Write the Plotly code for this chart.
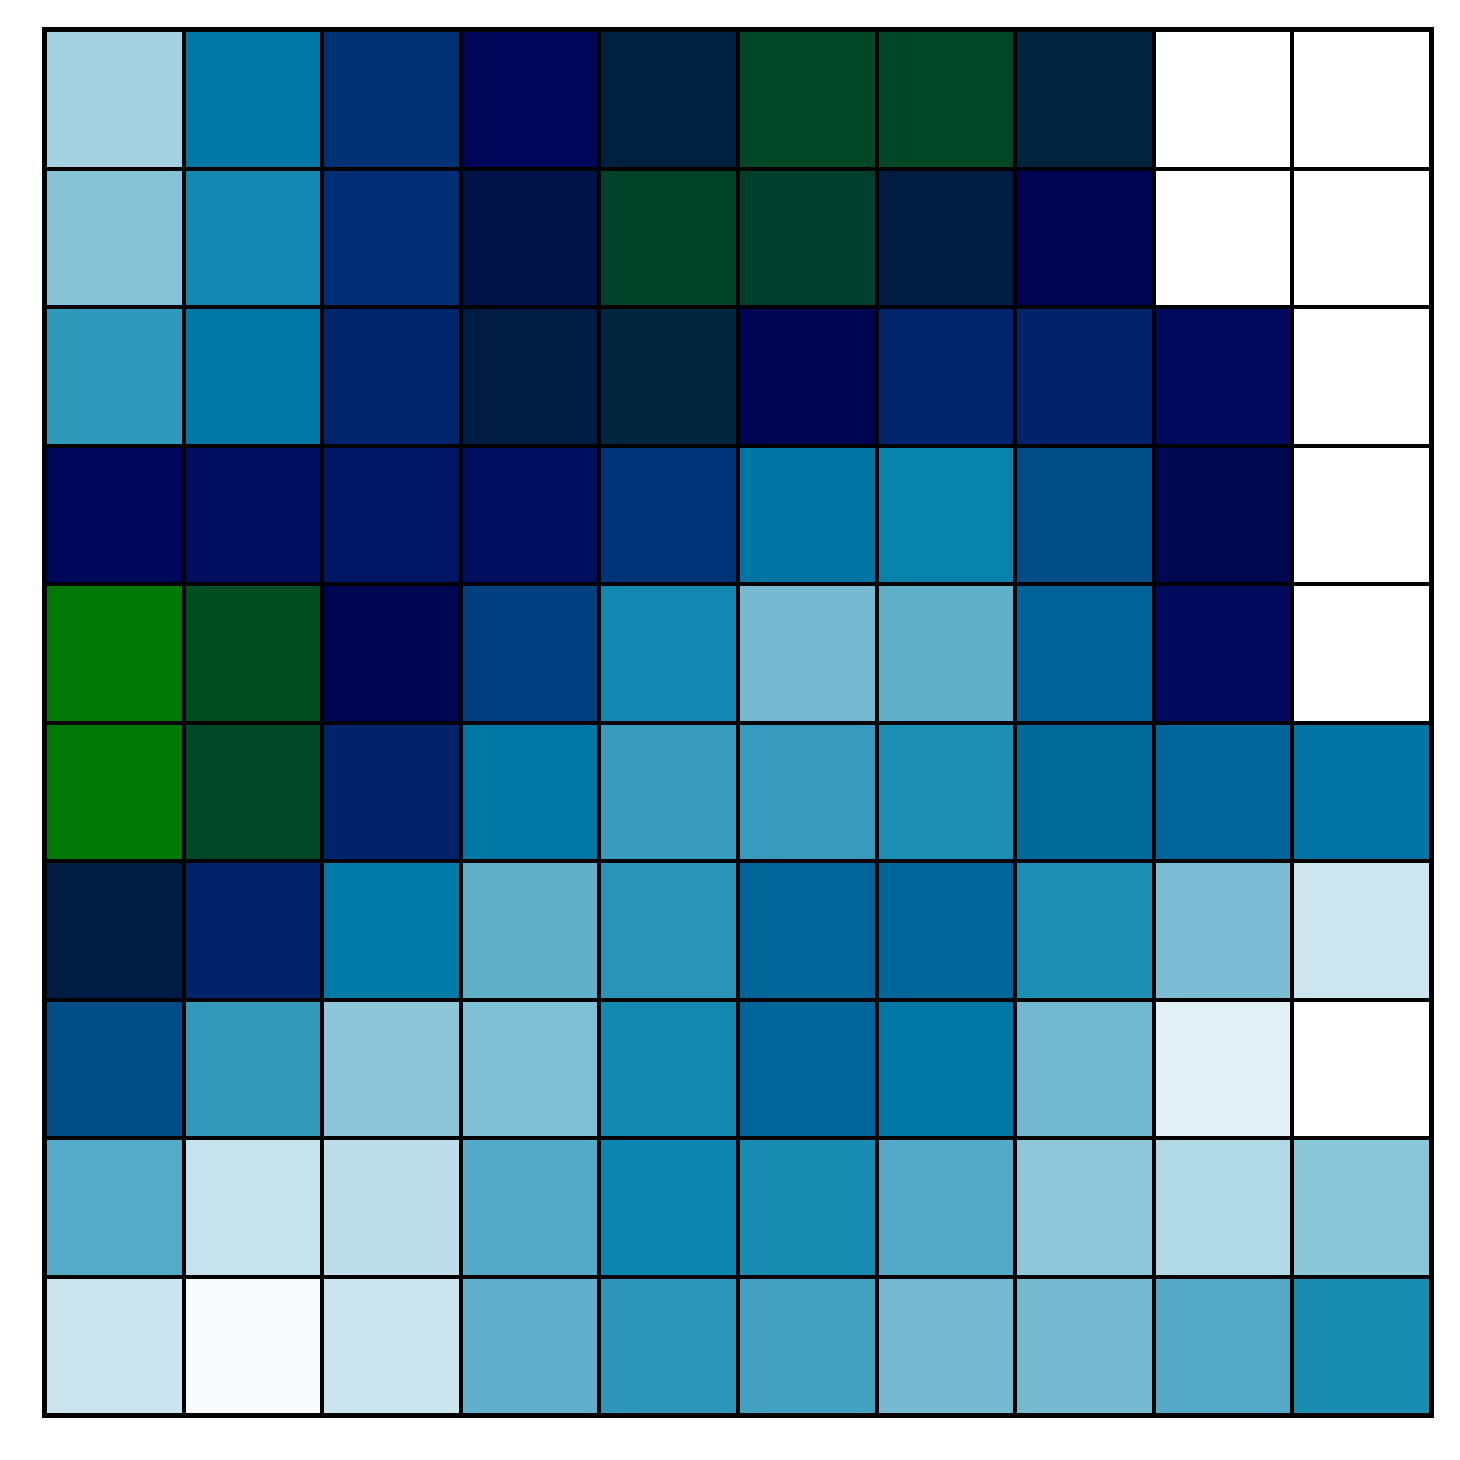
import plotly.graph_objects as go

rows = ["r1", "r2", "r3", "r4", "r5", "r6", "r7", "r8", "r9", "r10"]
cols = ["c1", "c2", "c3", "c4", "c5", "c6", "c7", "c8", "c9", "c10"]

row1 = [0.88, 0.645, 0.46, 0.35, 0.25, 0.145, 0.145, 0.24, 1.0, 1.0]
row2 = [0.84, 0.69, 0.45, 0.28, 0.165, 0.17, 0.26, 0.32, 1.0, 1.0]
row3 = [0.73, 0.645, 0.43, 0.26, 0.235, 0.32, 0.43, 0.425, 0.36, 1.0]
row4 = [0.35, 0.37, 0.39, 0.37, 0.47, 0.64, 0.675, 0.53, 0.31, 1.0]
row5 = [0.02, 0.13, 0.32, 0.5, 0.69, 0.82, 0.792, 0.59, 0.36, 1.0]
row6 = [0.02, 0.145, 0.425, 0.645, 0.742, 0.74, 0.706, 0.61, 0.6, 0.64]
row7 = [0.26, 0.425, 0.655, 0.792, 0.72, 0.6, 0.6, 0.705, 0.829, 0.933]
row8 = [0.53, 0.733, 0.851, 0.832, 0.693, 0.6, 0.645, 0.815, 0.96, 1.0]
row9 = [0.778, 0.925, 0.912, 0.775, 0.682, 0.7, 0.775, 0.852, 0.897, 0.85]
row10 = [0.93, 0.99, 0.932, 0.794, 0.725, 0.753, 0.82, 0.82, 0.775, 0.7]

z = [row1, row2, row3, row4, row5, row6, row7, row8, row9, row10]


def ocean(x):
    r = min(1, max(0, 3 * x - 2))
    g = min(1, max(0, abs((3 * x - 1) / 2)))
    b = min(1, max(0, x))
    return "rgb(%d,%d,%d)" % (round(r * 255), round(g * 255), round(b * 255))


n = 60
colorscale = [[i / n, ocean(i / n)] for i in range(n + 1)]

fig = go.Figure(
    go.Heatmap(
        z=z,
        x=cols,
        y=rows,
        colorscale=colorscale,
        zmin=0,
        zmax=1,
        showscale=False,
        xgap=4,
        ygap=4,
        hoverinfo="skip",
    )
)

fig.update_layout(
    width=1460,
    height=1460,
    margin=dict(l=37, r=37, t=22, b=53),
    paper_bgcolor="white",
    plot_bgcolor="black",
)
fig.update_xaxes(showticklabels=False, ticks="", showgrid=False, zeroline=False,
                 showline=True, linecolor="black", linewidth=3, mirror=True)
fig.update_yaxes(showticklabels=False, ticks="", showgrid=False, zeroline=False,
                 autorange="reversed", showline=True, linecolor="black",
                 linewidth=3, mirror=True)

fig.write_html("out.html")
